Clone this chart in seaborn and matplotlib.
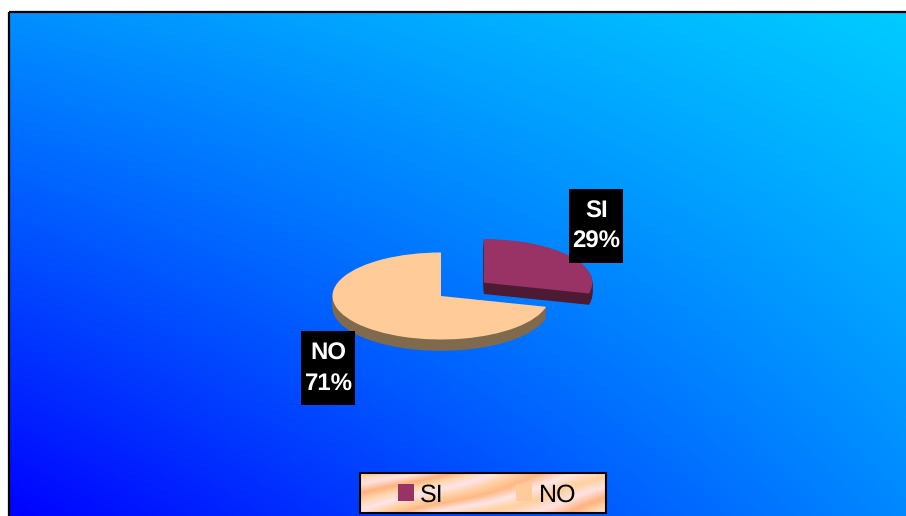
import numpy as np
import matplotlib
matplotlib.use("Agg")
import matplotlib.pyplot as plt
from matplotlib.colors import LinearSegmentedColormap
from matplotlib.patches import Rectangle
import seaborn as sns

categories = ["SI", "NO"]
values = [29, 71]
top_colors = ["#993366", "#FFCC99"]
side_colors = ["#4D1A33", "#806A4D"]

sns.set_theme(style="white")
plt.rcParams["font.family"] = ["Liberation Sans", "DejaVu Sans"]
plt.rcParams["text.hinting"] = "no_hinting"
plt.rcParams["text.hinting_factor"] = 1

W, H = 906, 516
fig = plt.figure(figsize=(W / 100, H / 100), dpi=100, facecolor="white")

# Full-figure pixel canvas for background, frame, legend panel and labels
bg = fig.add_axes([0, 0, 1, 1])
bg.set_xlim(0, W)
bg.set_ylim(H, 0)
bg.axis("off")

# Bilinear blue gradient of the chart area
u = np.linspace(0, 1, 300)
v = np.linspace(0, 1, 300)
U, V = np.meshgrid(u, v)
green = (144 * (1 - U) * (1 - V) + 204 * U * (1 - V) + 0 * (1 - U) * V + 136 * U * V) / 255
rgb = np.dstack([np.zeros_like(green), green, np.ones_like(green)])
bg.imshow(rgb, extent=(9, W + 4, H + 4, 12), aspect="auto", zorder=1, interpolation="bilinear")
bg.set_xlim(0, W)
bg.set_ylim(H, 0)
bg.add_patch(Rectangle((9, 12), W, H, fill=False, ec="black", lw=1.6, zorder=2))

# Legend panel with peach texture
texture = LinearSegmentedColormap.from_list(
    "peach", ["#FFB27E", "#FFD9B0", "#FFE4EA", "#FFD2A6", "#FFB884", "#FFE6E6", "#FFD09E", "#FFE2E2", "#FFB583"])
lu, lv = np.meshgrid(np.linspace(0, 1, 300), np.linspace(0, 1, 60))
bands = (lu * 0.95 + (lv - 0.5) * 0.55 * (1 + 0.3 * np.sin(lu * 6))) % 1
bg.imshow(bands, cmap=texture, vmin=0, vmax=1, extent=(360, 606, 513, 473),
          aspect="auto", zorder=3, interpolation="bilinear")
bg.set_xlim(0, W)
bg.set_ylim(H, 0)
bg.add_patch(Rectangle((360, 473), 246, 40, fill=False, ec="black", lw=1.5, zorder=4))

# Pie, squashed through its axes box to look tilted
cx, cy, rx, ry, span = 441, 296, 108.5, 43.5, 2.0
ax = fig.add_axes([(cx - span * rx) / W, 1 - (cy + span * ry) / H,
                   2 * span * rx / W, 2 * span * ry / H])
ax.patch.set_alpha(0)
explode = [0.5, 0]
depth = 0.26
wedges = None
for d in np.linspace(depth, 0.01, 14):
    ax.pie(values, explode=explode, colors=side_colors, startangle=90, counterclock=False,
           center=(0, -d), wedgeprops={"lw": 0})
wedges, _ = ax.pie(values, explode=explode, colors=top_colors, startangle=90, counterclock=False,
                   wedgeprops={"lw": 0})
ax.set_aspect("auto")
ax.set_xlim(-span, span)
ax.set_ylim(-span, span)
ax.axis("off")

# Data labels as black boxes
label_boxes = [(569, 189, 54, 74), (301, 331, 54, 74)]
over = fig.add_axes([0, 0, 1, 1])
over.set_xlim(0, W)
over.set_ylim(H, 0)
over.axis("off")
over.patch.set_alpha(0)
for cat, val, (x, y, w, h) in zip(categories, values, label_boxes):
    over.add_patch(Rectangle((x, y), w, h, fc="black", ec="none"))
    over.text(x + w / 2 + 0.5, y + h / 2 + 0.5, f"{cat}\n{val}%", color="white", fontsize=17.5,
              fontweight="bold", ha="center", va="center", linespacing=1.48)

# Legend
leg = over.legend(wedges, categories, ncol=2, loc="center", bbox_to_anchor=(487, 495),
                  bbox_transform=over.transData, frameon=False, fontsize=18,
                  handlelength=0.64, handleheight=0.64, handletextpad=0.26,
                  columnspacing=2.9, labelcolor="black")

fig.savefig("out.png", dpi=100, facecolor="white")
